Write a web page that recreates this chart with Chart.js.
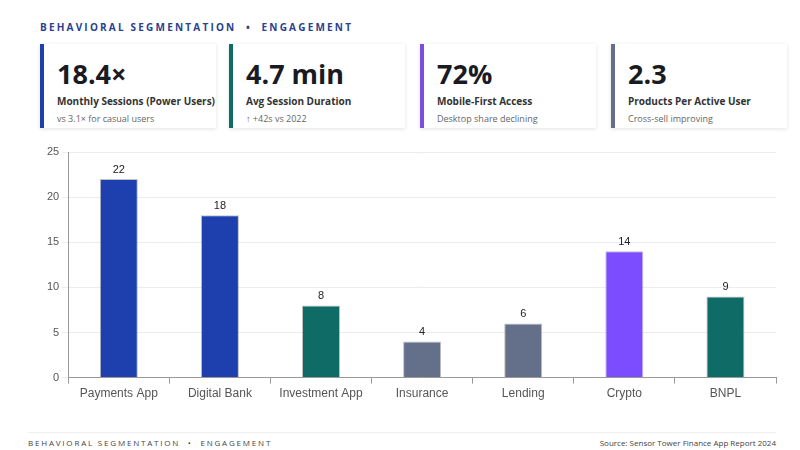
<!DOCTYPE html>
<html><head><meta charset="utf-8">
<script src="https://cdn.jsdelivr.net/npm/chart.js@4"></script>
<style>
body{margin:0;width:800px;height:450px;background:#fff;font-family:"Open Sans",sans-serif;position:relative;overflow:hidden}
.hdr{position:absolute;left:40px;top:20px;font-size:10px;font-weight:700;letter-spacing:2.2px;color:#2b3f8f}
.card{position:absolute;top:44px;height:84px;width:172px;background:#fff;box-shadow:0 1px 4px rgba(0,0,0,.12);border-left:4px solid}
.card .v{position:absolute;left:13px;top:11px;font-size:27px;font-weight:700;color:#1a1a22}
.card .l{position:absolute;left:13px;top:50px;font-size:10px;font-weight:700;color:#333}
.card .s{position:absolute;left:13px;top:68px;font-size:9px;color:#666}
#wrap{position:absolute;left:28px;top:140px;width:756px;height:264px}
.foot{position:absolute;left:28px;right:24px;top:432px;border-top:1px solid #eee;padding-top:4px;font-size:8px;color:#444}
.foot .a{letter-spacing:1.8px}
.foot .b{position:absolute;right:0;top:4px}
</style></head><body>
<div class="hdr">BEHAVIORAL SEGMENTATION &nbsp;•&nbsp; ENGAGEMENT</div>
<div id="cards"></div>
<div id="wrap"><canvas id="c"></canvas></div>
<div class="foot"><span class="a">BEHAVIORAL SEGMENTATION &nbsp;•&nbsp; ENGAGEMENT</span><span class="b">Source: Sensor Tower Finance App Report 2024</span></div>
<script>
// KPI cards
const kpiValues = ['18.4×', '4.7 min', '72%', '2.3'];
const kpiLabels = ['Monthly Sessions (Power Users)', 'Avg Session Duration', 'Mobile-First Access', 'Products Per Active User'];
const kpiSubs = ['vs 3.1× for casual users', '↑ +42s vs 2022', 'Desktop share declining', 'Cross-sell improving'];
const kpiColors = ['#1e40af', '#0f6b66', '#7c4ddf', '#666e88'];
const kpiLeft = [40, 229, 420, 611];

// chart data
const categories = ['Payments App', 'Digital Bank', 'Investment App', 'Insurance', 'Lending', 'Crypto', 'BNPL'];
const values = [22, 18, 8, 4, 6, 14, 9];
const barColors = ['#1e40af', '#1e40af', '#0f6b66', '#64708a', '#64708a', '#7c4dff', '#0f6b66'];
const yTicks = [0, 5, 10, 15, 20, 25];

const cards = document.getElementById('cards');
kpiValues.forEach((v, i) => {
    const d = document.createElement('div');
    d.className = 'card';
    d.style.left = kpiLeft[i] + 'px';
    d.style.borderLeftColor = kpiColors[i];
    d.innerHTML = `<div class="v">${v}</div><div class="l">${kpiLabels[i]}</div><div class="s">${kpiSubs[i]}</div>`;
    cards.appendChild(d);
});

//labels on top of bars
const valueLabels = {
    id: 'valueLabels',
    afterDatasetsDraw(chart) {
        const ctx = chart.ctx;
        const meta = chart.getDatasetMeta(0);
        ctx.save();
        ctx.font = '11px "Liberation Sans", Arial';
        ctx.fillStyle = '#222';
        ctx.textAlign = 'center';
        ctx.textBaseline = 'bottom';
        meta.data.forEach((bar, i) => ctx.fillText(values[i], bar.x, bar.y - 4));
        ctx.restore();
    }
};

new Chart(document.getElementById('c'), {
    type: 'bar',
    data: {
        labels: categories,
        datasets: [{
            data: values,
            backgroundColor: barColors,
            borderColor: 'rgba(0,0,0,0.25)',
            borderWidth: 1,
            categoryPercentage: 0.8,
            barPercentage: 0.47
        }]
    },
    options: {
        responsive: true,
        maintainAspectRatio: false,
        animation: false,
        layout: { padding: { top: 12, right: 8, left: 16 } },
        plugins: { legend: { display: false }, tooltip: { enabled: false } },
        scales: {
            x: {
                grid: { display: true, drawOnChartArea: false, color: '#999', tickLength: 6 },
                border: { color: '#999' },
                ticks: { color: '#555', font: { family: '"Liberation Sans", Arial', size: 12 } }
            },
            y: {
                min: 0, max: 25,
                afterBuildTicks: axis => { axis.ticks = yTicks.map(v => ({ value: v })); },
                grid: { color: '#ececec', tickLength: 6 },
                border: { color: '#999' },
                ticks: { color: '#555', font: { family: '"Liberation Sans", Arial', size: 11 } }
            }
        }
    },
    plugins: [valueLabels]
});
</script>
</body></html>
